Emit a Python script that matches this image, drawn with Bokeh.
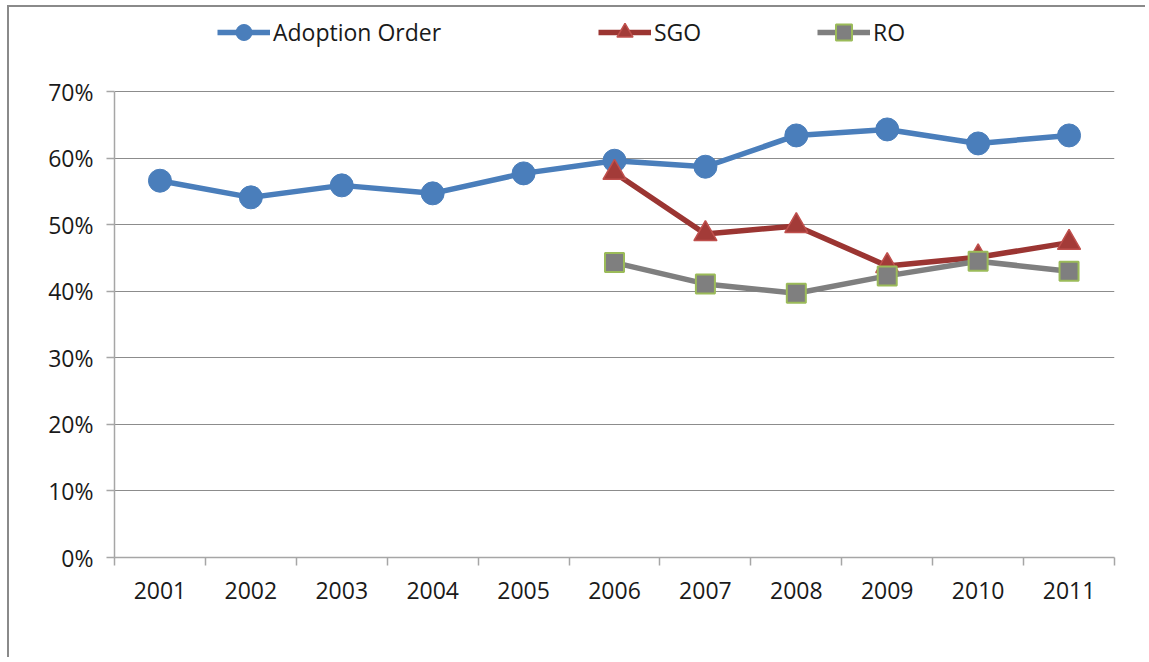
from bokeh.plotting import figure
from bokeh.models import Range1d, FixedTicker, Legend, NumeralTickFormatter
from bokeh.embed import file_html
from bokeh.resources import INLINE
import numpy as np

years = ["2001", "2002", "2003", "2004", "2005", "2006", "2007", "2008", "2009", "2010", "2011"]
adoption_order = [0.566, 0.541, 0.559, 0.547, 0.577, 0.596, 0.587, 0.634, 0.643, 0.622, 0.634]
sgo = [None, None, None, None, None, 0.578, 0.486, 0.498, 0.438, 0.451, 0.473]
ro = [None, None, None, None, None, 0.443, 0.411, 0.397, 0.423, 0.445, 0.430]
y_ticks = [0, 0.1, 0.2, 0.3, 0.4, 0.5, 0.6, 0.7]

FONT = "Open Sans"
x = [i + 0.5 for i in range(len(years))]
def arr(v):
    return np.array([np.nan if a is None else a for a in v], dtype=float)

# layout (figure content starts at page x=9, y=7 after margin + 2px border)
W, H = 1138, 652
MBL, MBR, MBT, MBB = 105, 33, 3, 102
frame_h = H - MBT - MBB            # frame spans from near top down to the 0% line
axis_h = 466                       # pixel height from 0% to 70%
y_end = max(y_ticks) * frame_h / axis_h

p = figure(width=W, height=H, output_backend="svg", toolbar_location=None,
           x_range=Range1d(0, len(years)), y_range=Range1d(0, y_end),
           min_border_left=MBL, min_border_right=MBR, min_border_top=MBT, min_border_bottom=MBB)
p.outline_line_color = None
p.background_fill_color = "white"
p.border_fill_color = "white"
p.styles = {"border-top": "2px solid #8a8a8a", "border-left": "2px solid #8a8a8a",
            "margin-left": "7px", "margin-top": "5px"}

# x axis: labels at category centres, ticks at boundaries
p.xaxis.ticker = FixedTicker(ticks=x, minor_ticks=list(range(len(years) + 1)))
p.xaxis.major_label_overrides = {xx: y for xx, y in zip(x, years)}
p.xaxis.major_tick_out = 0
p.xaxis.major_tick_in = 0
p.xaxis.minor_tick_out = 8
p.xaxis.minor_tick_in = 0
p.xaxis.minor_tick_line_color = "#a6a6a6"
p.xaxis.minor_tick_line_width = 1.5
p.xaxis.axis_line_color = "#a6a6a6"
p.xaxis.axis_line_width = 1.5
p.xaxis.major_label_standoff = 16
p.xgrid.visible = False

p.yaxis.ticker = FixedTicker(ticks=y_ticks)
p.yaxis.bounds = (0, max(y_ticks))
p.yaxis.formatter = NumeralTickFormatter(format="0%")
p.yaxis.major_tick_out = 8
p.yaxis.major_tick_in = 0
p.yaxis.minor_tick_line_color = None
p.yaxis.major_tick_line_color = "#a6a6a6"
p.yaxis.major_tick_line_width = 1.5
p.yaxis.axis_line_color = "#a6a6a6"
p.yaxis.axis_line_width = 1.5
p.yaxis.major_label_standoff = 13
p.ygrid.grid_line_color = "#8c8c8c"
p.ygrid.grid_line_width = 1.2

for ax in (p.xaxis, p.yaxis):
    ax.major_label_text_font = FONT
    ax.major_label_text_font_size = "23px"
    ax.major_label_text_color = "#1a1a1a"

r1l = p.line(x, adoption_order, line_color="#4a7ebb", line_width=5.5)
r1s = p.scatter(x, adoption_order, marker="circle", size=23, fill_color="#4a7ebb", line_color="#4a7ebb")
r2l = p.line(x, arr(sgo), line_color="#9b3532", line_width=5.5)
r2s = p.scatter(x, arr(sgo), marker="triangle", size=23, fill_color="#a33b38", line_color="#c0504d", line_width=1.5)
r3l = p.line(x, arr(ro), line_color="#7f7f7f", line_width=5.5)
r3s = p.scatter(x, arr(ro), marker="square", size=19, fill_color="#7f7f7f", line_color="#9bbb59", line_width=2)

legend_items = [("Adoption Order", [r1l, r1s], 103), ("SGO", [r2l, r2s], 484), ("RO", [r3l, r3s], 703)]
for label, rends, lx in legend_items:
    lg = Legend(items=[(label, rends)], orientation="horizontal", location=(lx, 505),
                glyph_width=53, glyph_height=40, label_standoff=3, label_height=40,
                label_text_font=FONT, label_text_font_size="23px", label_text_color="#1a1a1a",
                border_line_color=None, background_fill_alpha=0, padding=0, margin=0)
    p.add_layout(lg, "center")

open("out.html", "w").write(file_html(p, INLINE))
